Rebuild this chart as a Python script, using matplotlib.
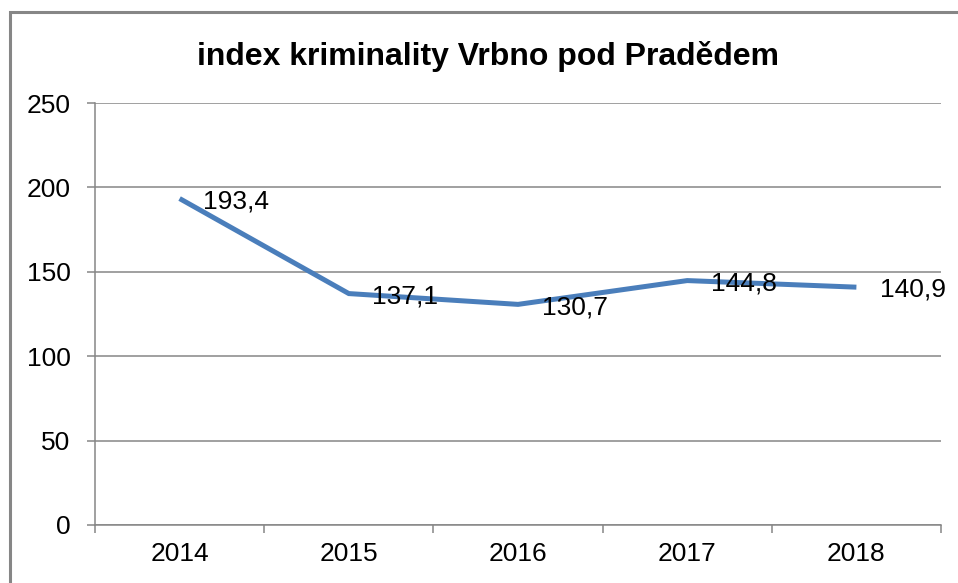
import matplotlib
matplotlib.use("Agg")
import matplotlib.pyplot as plt
from matplotlib.patches import Rectangle

# data
years = ["2014", "2015", "2016", "2017", "2018"]
values = [193.4, 137.1, 130.7, 144.8, 140.9]
value_labels = ["193,4", "137,1", "130,7", "144,8", "140,9"]
yticks = [0, 50, 100, 150, 200, 250]

plt.rcParams['font.family'] = ['Liberation Sans', 'DejaVu Sans']

W, H = 958, 583
fig = plt.figure(figsize=(W / 100, H / 100), dpi=100)

# chart frame (cut off on the right and bottom like the source)
fig.patches.append(Rectangle((10 / W, -0.05), 1.1, 1.05 - 12 / H,
                             transform=fig.transFigure, fill=False,
                             edgecolor='#868686', linewidth=2.2))

ax = fig.add_axes([95 / W, 1 - 525 / H, (941 - 95) / W, (525 - 103) / H])

x = list(range(len(years)))
ax.plot(x, values, color='#4A7EBB', linewidth=3.6, solid_capstyle='butt',
        solid_joinstyle='miter', zorder=3)

for xi, v, lab in zip(x, values, value_labels):
    ax.annotate(lab, (xi, v), xytext=(17, -2), textcoords='offset points',
                ha='left', va='center', fontsize=19, color='black', zorder=4)

ax.set_xlim(-0.5, len(years) - 0.5)
ax.set_ylim(0, 250)
ax.set_yticks(yticks)
ax.set_yticklabels([str(t) for t in yticks])
ax.grid(axis='y', color='#868686', linewidth=1.1)
ax.set_axisbelow(True)

# category ticks sit between categories
ax.set_xticks([i - 0.5 for i in range(len(years) + 1)])
ax.set_xticklabels([])
ax.set_xticks(x, minor=True)
ax.set_xticklabels(years, minor=True)
ax.tick_params(axis='x', which='major', length=6, width=1.1, color='#868686',
               direction='out')
ax.tick_params(axis='x', which='minor', length=0, labelsize=19, pad=12)
ax.tick_params(axis='y', length=6, width=1.1, color='#868686',
               labelsize=19, pad=11.5)

for s in ['top', 'right']:
    ax.spines[s].set_visible(False)
for s in ['left', 'bottom']:
    ax.spines[s].set_color('#868686')
    ax.spines[s].set_linewidth(1.1)

fig.text((197 + 779) / 2 / W, 1 - 57 / H, "index kriminality Vrbno pod Pradědem",
         ha='center', va='center', fontsize=23, fontweight='bold')

fig.savefig("out.png", dpi=100)
